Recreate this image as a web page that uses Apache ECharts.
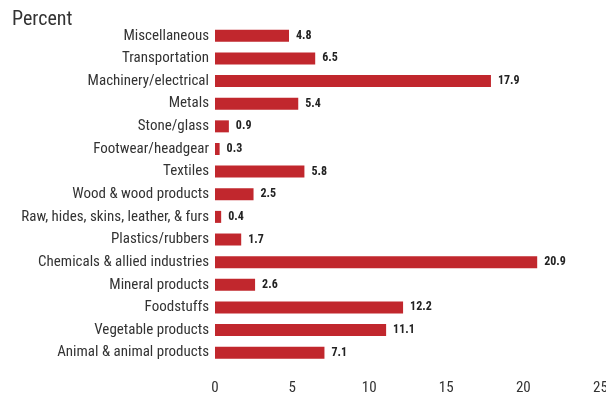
<!DOCTYPE html>
<html><head><meta charset="utf-8">
<script src="https://cdn.jsdelivr.net/npm/echarts@6/dist/echarts.min.js"></script>
<style>html,body{margin:0;padding:0;background:#fff}#c{width:606px;height:396px}</style>
</head><body><div id="c"></div>
<script>
const categories = ["Miscellaneous","Transportation","Machinery/electrical","Metals","Stone/glass","Footwear/headgear","Textiles","Wood & wood products","Raw, hides, skins, leather, & furs","Plastics/rubbers","Chemicals & allied industries","Mineral products","Foodstuffs","Vegetable products","Animal & animal products"];
const values = [4.8,6.5,17.9,5.4,0.9,0.3,5.8,2.5,0.4,1.7,20.9,2.6,12.2,11.1,7.1];
const xTicks = [0,5,10,15,20,25];
const FONT = '"Liberation Sans Narrow","Roboto Condensed","Liberation Sans",sans-serif';
const chart = echarts.init(document.getElementById('c'));
chart.setOption({
  animation:false,
  title:{text:'Percent',left:7,top:5,textStyle:{fontFamily:FONT,fontSize:20,fontWeight:'normal',color:'#333'}},
  grid:{left:215,right:5.6,top:24.5,bottom:32,containLabel:false,outerBoundsMode:'none'},
  xAxis:{type:'value',min:xTicks[0],max:xTicks[xTicks.length-1],interval:5,
    axisLine:{show:false},axisTick:{show:false},splitLine:{show:false},
    axisLabel:{fontFamily:FONT,fontSize:15,color:'#333',margin:17}},
  yAxis:{type:'category',data:categories,inverse:true,
    axisLine:{show:false},axisTick:{show:false},
    axisLabel:{fontFamily:FONT,fontSize:15,color:'#333',margin:6}},
  series:[{type:'bar',data:values,barWidth:12,itemStyle:{color:'#c1272d'},
    label:{show:true,position:'right',distance:7,fontFamily:FONT,fontSize:12,fontWeight:'bold',color:'#222'}}]
});
</script></body></html>
